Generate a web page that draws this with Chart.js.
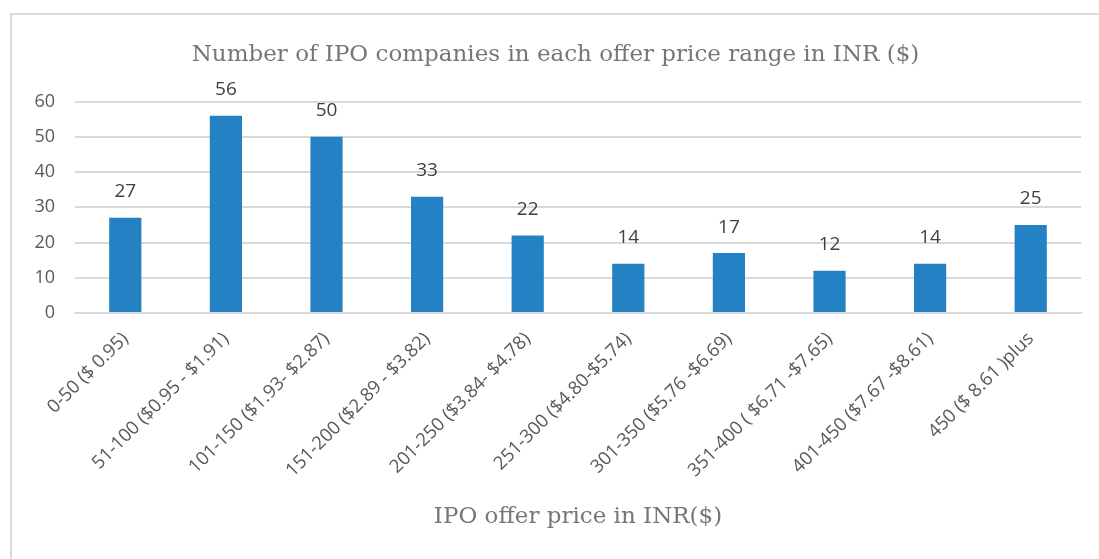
<!DOCTYPE html>
<html>
<head>
<meta charset="utf-8">
<script src="https://cdn.jsdelivr.net/npm/chart.js@4"></script>
<style>
  html, body { margin: 0; padding: 0; background: #fff; }
  #wrap { position: relative; width: 1099px; height: 559px; overflow: hidden; }
  #frame { position: absolute; left: 10px; top: 13px; width: 1200px; height: 600px;
           border-left: 2px solid #d9d9d9; border-top: 2px solid #d9d9d9; }
  canvas { position: absolute; left: 0; top: 0; }
</style>
</head>
<body>
<div id="wrap">
  <div id="frame"></div>
  <canvas id="chart" width="1099" height="559"></canvas>
</div>
<script>
const categories = [
  "0-50 ($ 0.95)",
  "51-100 ($0.95 - $1.91)",
  "101-150 ($1.93- $2.87)",
  "151-200 ($2.89 - $3.82)",
  "201-250 ($3.84- $4.78)",
  "251-300 ($4.80-$5.74)",
  "301-350 ($5.76 -$6.69)",
  "351-400 ( $6.71 -$7.65)",
  "401-450 ($7.67 -$8.61)",
  "450 ($ 8.61 )plus"
];
const companies = [27, 56, 50, 33, 22, 14, 17, 12, 14, 25];
const yTicks = [0, 10, 20, 30, 40, 50, 60];

const chartTitle = "Number of IPO companies in each offer price range in INR ($)";
const xTitle = "IPO offer price in INR($)";

// value labels above the bars
const barLabels = {
  id: "barLabels",
  afterDatasetsDraw(chart) {
    const ctx = chart.ctx;
    const meta = chart.getDatasetMeta(0);
    ctx.save();
    ctx.font = "19px 'Open Sans'";
    ctx.fillStyle = "#404040";
    ctx.textAlign = "center";
    ctx.textBaseline = "middle";
    meta.data.forEach((bar, i) => {
      ctx.fillText(companies[i], bar.x, bar.y - 26);
    });
    ctx.restore();
  }
};

new Chart(document.getElementById("chart"), {
  type: "bar",
  data: {
    labels: categories,
    datasets: [{
      data: companies,
      backgroundColor: "#2481c4",
      barPercentage: 0.64,
      categoryPercentage: 0.5
    }]
  },
  options: {
    responsive: false,
    animation: false,
    layout: { padding: { left: 30, right: 18, top: 0, bottom: 0 } },
    plugins: {
      legend: { display: false },
      tooltip: { enabled: false },
      title: {
        display: true,
        text: chartTitle,
        color: "#767676",
        font: { family: "'DejaVu Serif'", size: 23, weight: "normal", lineHeight: 1.2 },
        padding: { top: 41, bottom: 33 }
      }
    },
    scales: {
      x: {
        grid: { display: false },
        border: { color: "#d9d9d9", width: 2 },
        afterFit(axis) { axis.height = 246; },
        ticks: {
          color: "#595959",
          font: { family: "'Open Sans'", size: 18.5 },
          minRotation: 45,
          maxRotation: 45,
          autoSkip: false,
          padding: 7
        },
        title: {
          display: true,
          text: xTitle,
          color: "#767676",
          font: { family: "'DejaVu Serif'", size: 23, lineHeight: 1.2 },
          padding: { top: 8, bottom: 28 }
        }
      },
      y: {
        min: 0,
        max: 60,
        afterBuildTicks(axis) { axis.ticks = yTicks.map(v => ({ value: v })); },
        afterFit(axis) { axis.width = 45; },
        grid: { color: "#d9d9d9", lineWidth: 2, drawTicks: false },
        border: { display: false },
        ticks: {
          color: "#595959",
          font: { family: "'Open Sans'", size: 18 },
          padding: 20
        }
      }
    }
  },
  plugins: [barLabels]
});
</script>
</body>
</html>
